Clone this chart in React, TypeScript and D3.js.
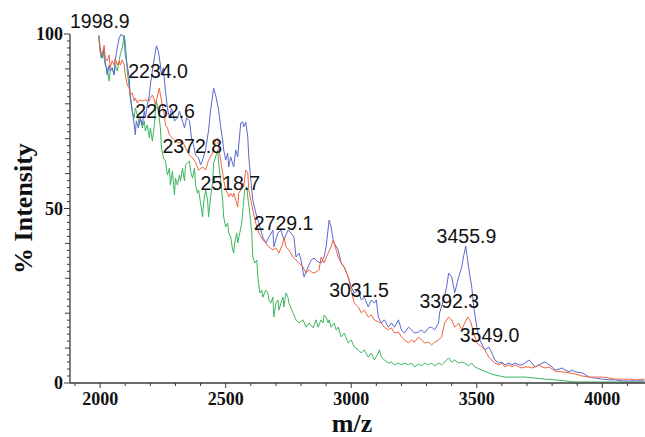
import React from "react";
import * as d3 from "d3";

// MALDI spectra: [m/z, % intensity]
const traceBlue: [number, number][] = [
  [1995, 99.7], [2000, 96.0], [2008, 93.1], [2016, 96.0], [2020, 92.3], [2028, 88.3], [2036, 91.1],
  [2040, 89.4], [2048, 90.3], [2056, 88.3], [2060, 92.3], [2068, 96.0], [2076, 98.9], [2084, 100],
  [2096, 98.9], [2100, 94.0], [2108, 91.1], [2116, 87.4], [2120, 82.5], [2128, 77.9], [2136, 73.9],
  [2140, 71.1], [2144, 75.1], [2152, 73.1], [2160, 75.9], [2168, 73.9], [2176, 77.9], [2180, 75.9],
  [2188, 79.7], [2196, 82.5], [2200, 85.4], [2208, 89.4], [2216, 93.1], [2224, 96.6], [2232, 95.1],
  [2240, 91.1], [2244, 88.3], [2252, 90.3], [2260, 83.7], [2268, 78.8], [2276, 75.9], [2284, 78.8],
  [2296, 75.1], [2308, 75.9], [2316, 77.9], [2324, 75.9], [2336, 73.1], [2344, 75.9], [2356, 75.1],
  [2364, 70.2], [2372, 68.2], [2380, 65.3], [2392, 64.5], [2400, 62.5], [2408, 63.9], [2420, 66.8],
  [2432, 72.5], [2440, 78.2], [2452, 84.5], [2460, 82.5], [2472, 78.2], [2480, 73.4], [2488, 69.6],
  [2492, 66.8], [2500, 63.9], [2508, 65.9], [2512, 61.9], [2520, 64.8], [2532, 61.9], [2540, 66.8],
  [2548, 64.8], [2560, 74.5], [2568, 74.8], [2572, 73.4], [2580, 74.8], [2588, 70.5], [2592, 64.8],
  [2600, 58.2], [2608, 52.4], [2620, 48.7], [2632, 45.8], [2648, 41.8], [2660, 40.1], [2672, 41.8],
  [2688, 43.8], [2692, 39.0], [2708, 43.0], [2720, 43.8], [2732, 41.0], [2748, 43.8], [2760, 43.0],
  [2772, 41.8], [2780, 36.1], [2792, 37.2], [2800, 35.2], [2812, 30.4], [2828, 33.2], [2840, 35.2],
  [2852, 35.8], [2868, 34.7], [2880, 34.4], [2892, 36.1], [2900, 39.0], [2912, 46.7], [2920, 44.7],
  [2928, 41.0], [2932, 40.1], [2948, 38.1], [2960, 34.4], [2972, 33.2], [2988, 30.4], [3000, 27.5],
  [3012, 25.8], [3028, 26.6], [3040, 23.8], [3052, 24.6], [3068, 21.8], [3080, 23.8], [3092, 22.9],
  [3100, 23.8], [3108, 18.9], [3120, 17.2], [3132, 18.1], [3148, 16.0], [3160, 17.2], [3172, 16.0],
  [3188, 18.1], [3200, 15.2], [3212, 14.3], [3228, 16.0], [3240, 15.2], [3252, 14.3], [3268, 14.6],
  [3280, 15.2], [3292, 14.3], [3308, 15.8], [3320, 16.0], [3332, 15.2], [3348, 17.2], [3352, 20.1],
  [3368, 23.8], [3380, 27.5], [3388, 31.5], [3400, 30.4], [3408, 27.5], [3412, 25.8], [3428, 30.4],
  [3440, 33.2], [3448, 36.5], [3456, 39.2], [3464, 35.0], [3472, 31.0], [3480, 27.5], [3488, 21.8],
  [3500, 16.0], [3512, 12.3], [3532, 9.5], [3548, 10.3], [3560, 8.6], [3572, 6.6], [3588, 5.7],
  [3600, 6.0], [3612, 5.2], [3628, 5.7], [3640, 5.2], [3652, 5.7], [3668, 5.2], [3680, 5.2],
  [3692, 5.7], [3708, 6.6], [3720, 5.7], [3732, 4.6], [3748, 5.2], [3760, 5.7], [3772, 6.0],
  [3788, 5.2], [3800, 4.6], [3812, 3.7], [3828, 4.0], [3840, 4.3], [3852, 3.7], [3868, 3.2],
  [3880, 3.7], [3892, 3.2], [3920, 2.9], [3948, 1.7], [3972, 1.4], [4000, 1.1], [4028, 0.9],
  [4052, 0.9], [4080, 0.6], [4108, 0.6], [4132, 0.6], [4168, 0.6],
];

const traceRed: [number, number][] = [
  [1996, 98.9], [2000, 95.1], [2008, 94.0], [2016, 96.8], [2020, 93.1], [2028, 92.3], [2036, 94.0],
  [2040, 90.3], [2048, 92.3], [2056, 91.1], [2060, 93.1], [2068, 91.1], [2076, 92.3], [2080, 91.1],
  [2088, 92.6], [2096, 91.1], [2100, 88.3], [2108, 85.4], [2116, 84.5], [2120, 82.5], [2128, 83.1],
  [2136, 80.8], [2140, 81.7], [2148, 80.2], [2156, 81.1], [2168, 80.8], [2180, 81.1], [2196, 80.8],
  [2200, 81.7], [2208, 82.5], [2216, 81.1], [2220, 79.7], [2228, 82.2], [2236, 84.5], [2240, 82.5],
  [2248, 79.7], [2256, 76.8], [2260, 73.9], [2268, 73.1], [2276, 71.1], [2288, 70.2], [2300, 69.3],
  [2316, 68.8], [2328, 69.3], [2340, 67.3], [2356, 65.3], [2368, 64.5], [2380, 63.3], [2392, 61.0],
  [2408, 61.9], [2420, 61.0], [2432, 63.9], [2448, 65.9], [2460, 69.6], [2468, 70.2], [2472, 67.6],
  [2480, 63.9], [2488, 60.2], [2492, 58.2], [2500, 55.3], [2508, 54.4], [2512, 53.3], [2520, 54.4],
  [2528, 53.3], [2532, 54.4], [2540, 52.4], [2548, 50.4], [2552, 54.4], [2560, 55.3], [2568, 57.3],
  [2572, 56.2], [2580, 61.0], [2588, 60.2], [2592, 55.3], [2600, 52.4], [2608, 49.6], [2620, 45.8],
  [2632, 43.0], [2648, 41.0], [2660, 40.1], [2672, 39.0], [2688, 38.1], [2700, 38.7], [2712, 37.2],
  [2728, 40.1], [2732, 41.8], [2740, 39.0], [2752, 38.1], [2768, 36.1], [2780, 35.2], [2792, 34.4],
  [2808, 33.2], [2820, 31.5], [2832, 32.4], [2848, 31.5], [2860, 31.8], [2872, 32.4], [2880, 36.1],
  [2892, 34.4], [2908, 37.2], [2920, 39.0], [2928, 41.0], [2932, 40.1], [2948, 36.1], [2960, 34.4],
  [2972, 33.2], [2988, 30.4], [3000, 26.6], [3012, 22.9], [3028, 21.8], [3040, 20.1], [3052, 20.9],
  [3068, 18.9], [3080, 19.5], [3092, 18.1], [3108, 17.5], [3120, 17.2], [3132, 16.0], [3148, 15.2],
  [3160, 15.8], [3172, 14.3], [3188, 14.6], [3200, 13.2], [3212, 12.3], [3228, 11.5], [3240, 12.3],
  [3252, 11.7], [3268, 13.2], [3280, 12.3], [3292, 11.5], [3308, 11.7], [3320, 10.9], [3332, 11.7],
  [3348, 12.3], [3360, 13.2], [3372, 17.2], [3388, 18.9], [3400, 18.1], [3412, 16.0], [3428, 17.2],
  [3440, 15.2], [3452, 17.2], [3464, 18.9], [3476, 17.5], [3488, 14.3], [3500, 11.5], [3520, 10.3],
  [3532, 9.5], [3548, 7.4], [3560, 6.6], [3572, 5.7], [3588, 5.2], [3600, 5.7], [3612, 4.6],
  [3628, 5.2], [3640, 4.6], [3652, 5.2], [3668, 4.6], [3680, 4.3], [3692, 4.6], [3708, 4.6],
  [3720, 4.3], [3732, 4.6], [3748, 5.2], [3760, 4.6], [3772, 4.3], [3788, 4.6], [3800, 4.0],
  [3812, 3.4], [3840, 3.2], [3868, 2.9], [3892, 2.6], [3920, 2.0], [3948, 1.7], [3972, 1.7],
  [4000, 1.7], [4028, 1.4], [4052, 1.1], [4080, 1.1], [4108, 1.1], [4132, 0.9], [4168, 1.1],
];

const traceGreen: [number, number][] = [
  [1994, 99.4], [1998, 96.0], [2004, 93.1], [2012, 95.1], [2020, 91.1], [2028, 90.3], [2036, 86.5],
  [2040, 89.4], [2048, 90.3], [2056, 88.3], [2060, 91.1], [2068, 89.4], [2076, 92.3], [2080, 94.0],
  [2088, 96.0], [2096, 99.7], [2100, 97.5], [2104, 94.0], [2108, 89.4], [2116, 84.5], [2120, 81.7],
  [2128, 77.9], [2136, 75.9], [2140, 78.8], [2148, 76.8], [2156, 73.9], [2160, 75.9], [2168, 73.1],
  [2176, 75.1], [2180, 72.2], [2188, 73.9], [2196, 70.2], [2200, 73.1], [2208, 69.3], [2216, 73.9],
  [2220, 77.9], [2224, 80.8], [2232, 77.9], [2240, 73.1], [2244, 67.3], [2252, 64.5], [2260, 63.6],
  [2268, 59.6], [2276, 61.6], [2280, 56.7], [2288, 60.7], [2296, 53.9], [2300, 58.7], [2308, 56.7],
  [2316, 59.6], [2320, 57.9], [2328, 61.6], [2336, 57.9], [2340, 62.5], [2356, 63.6], [2360, 60.7],
  [2368, 58.7], [2376, 61.6], [2380, 56.7], [2388, 54.4], [2392, 55.3], [2400, 51.6], [2408, 47.6],
  [2412, 51.6], [2420, 55.3], [2428, 52.4], [2432, 47.6], [2440, 53.3], [2448, 57.3], [2452, 63.0],
  [2460, 64.8], [2468, 66.8], [2472, 63.0], [2480, 58.2], [2488, 52.4], [2492, 47.6], [2500, 44.7],
  [2508, 45.8], [2512, 43.0], [2520, 41.8], [2528, 38.1], [2532, 37.2], [2536, 40.1], [2544, 43.0],
  [2548, 40.1], [2556, 43.0], [2564, 45.8], [2572, 52.4], [2576, 55.3], [2584, 56.2], [2588, 53.3],
  [2596, 48.7], [2604, 43.0], [2608, 36.1], [2616, 34.4], [2624, 35.2], [2628, 30.4], [2636, 25.8],
  [2644, 26.6], [2648, 24.6], [2660, 26.6], [2668, 25.8], [2672, 23.8], [2680, 22.9], [2688, 24.6],
  [2692, 18.9], [2700, 22.9], [2708, 23.8], [2712, 20.9], [2720, 22.9], [2728, 24.6], [2732, 21.8],
  [2740, 25.8], [2748, 24.6], [2752, 22.9], [2768, 20.1], [2780, 18.1], [2792, 17.2], [2808, 18.1],
  [2820, 16.0], [2832, 17.2], [2848, 15.8], [2860, 18.1], [2868, 16.0], [2880, 18.1], [2888, 17.2],
  [2892, 19.5], [2900, 18.9], [2908, 17.2], [2912, 18.1], [2920, 16.0], [2932, 17.2], [2940, 15.2],
  [2948, 16.0], [2960, 13.2], [2972, 14.3], [2988, 11.5], [3000, 12.3], [3012, 10.3], [3028, 9.5],
  [3040, 8.6], [3052, 9.5], [3068, 7.4], [3080, 8.6], [3092, 6.6], [3108, 8.6], [3112, 9.5],
  [3120, 7.4], [3132, 6.6], [3148, 5.7], [3160, 6.0], [3172, 5.2], [3188, 5.7], [3200, 5.2],
  [3212, 5.7], [3228, 5.2], [3240, 5.7], [3252, 4.6], [3268, 5.4], [3280, 4.9], [3292, 5.7],
  [3308, 5.2], [3320, 5.7], [3332, 4.9], [3348, 5.7], [3360, 5.2], [3372, 6.0], [3388, 7.2],
  [3400, 6.0], [3412, 6.6], [3428, 5.7], [3440, 6.0], [3452, 5.7], [3468, 4.9], [3480, 5.7],
  [3492, 4.6], [3520, 3.7], [3548, 2.9], [3572, 2.3], [3612, 1.7], [3652, 1.7], [3692, 1.7],
  [3732, 1.4], [3772, 1.1], [3812, 0.9], [3852, 0.6], [3892, 0.3], [4012, 0.3], [4168, 0.3],
];

// peak annotations: label text, m/z and intensity of the text's lower-left corner
const peakLabels = ["1998.9", "2234.0", "2262.6", "2372.8", "2518.7", "2729.1", "3031.5", "3455.9", "3392.3", "3549.0"];
const peakLabelMz = [1880, 2112, 2140, 2248, 2400, 2612, 2912, 3340, 3272, 3432];
const peakLabelInt = [101.7, 87.4, 75.9, 65.9, 55.3, 43.8, 24.6, 40.1, 21.5, 11.7];

const xMajorTicks = [2000, 2500, 3000, 3500, 4000];
const yMajorTicks = [0, 50, 100];

const W = 645;
const H = 437;
const LEFT = 70;
const RIGHT = 645;
const TOP = 34;
const BOTTOM = 383;

export default function App() {
  const x = d3.scaleLinear().domain([1880, 4170]).range([LEFT, RIGHT]);
  const y = d3.scaleLinear().domain([0, 100]).range([BOTTOM, TOP]);

  const line = d3
    .line<[number, number]>()
    .x((d) => x(d[0]))
    .y((d) => y(d[1]));

  const xMinor = d3.range(1900, 4200, 100).filter((v) => x(v) >= LEFT && x(v) <= RIGHT);
  const yMinor = d3.range(0, 101, 2);

  const tickFont = "'Liberation Serif', 'Times New Roman', serif";
  const axisColor = "#3a3a3a";

  return (
    <svg
      width={W}
      height={H}
      viewBox={`0 0 ${W} ${H}`}
      style={{ position: "absolute", left: 0, top: 0, display: "block", background: "#fff" }}
    >
      {/* spectra */}
      <g fill="none" strokeWidth={1} strokeLinejoin="round">
        <path d={line(traceGreen) ?? ""} stroke="#3cb65e" />
        <path d={line(traceBlue) ?? ""} stroke="#5a68d2" />
        <path d={line(traceRed) ?? ""} stroke="#f2643e" />
      </g>

      {/* axes */}
      <g stroke={axisColor} strokeWidth={1.3}>
        <line x1={LEFT} x2={LEFT} y1={TOP} y2={BOTTOM} />
        <line x1={LEFT} x2={RIGHT} y1={BOTTOM} y2={BOTTOM} />
        {yMinor.map((v) => (
          <line
            key={"ym" + v}
            x1={LEFT - (v % 50 === 0 ? 6 : v % 10 === 0 ? 5 : 3)}
            x2={LEFT}
            y1={y(v)}
            y2={y(v)}
            strokeWidth={1}
          />
        ))}
        {xMinor.map((v) => (
          <line
            key={"xm" + v}
            x1={x(v)}
            x2={x(v)}
            y1={BOTTOM}
            y2={BOTTOM + (v % 500 === 0 ? 5 : 3)}
            strokeWidth={1}
          />
        ))}
      </g>

      {/* tick labels */}
      <g fontFamily={tickFont} fontWeight="bold" fontSize={18} fill="#111">
        {yMajorTicks.map((v) => (
          <text key={"yl" + v} x={LEFT - 7} y={y(v)} textAnchor="end" dominantBaseline="central">
            {v}
          </text>
        ))}
        {xMajorTicks.map((v) => (
          <text key={"xl" + v} x={x(v)} y={405} textAnchor="middle">
            {v}
          </text>
        ))}
      </g>

      {/* axis titles */}
      <text
        x={352}
        y={432}
        textAnchor="middle"
        fontFamily={tickFont}
        fontWeight="bold"
        fontSize={26}
        fill="#111"
      >
        m/z
      </text>
      <text
        transform={`translate(32, ${(TOP + BOTTOM) / 2}) rotate(-90)`}
        textAnchor="middle"
        fontFamily={tickFont}
        fontWeight="bold"
        fontSize={26}
        fill="#111"
      >
        % Intensity
      </text>

      {/* peak annotations */}
      <g fontFamily="'Liberation Sans', Arial, sans-serif" fontSize={19.5} fill="#111">
        {peakLabels.map((t, i) => (
          <text key={t} x={x(peakLabelMz[i])} y={y(peakLabelInt[i])}>
            {t}
          </text>
        ))}
      </g>
    </svg>
  );
}
